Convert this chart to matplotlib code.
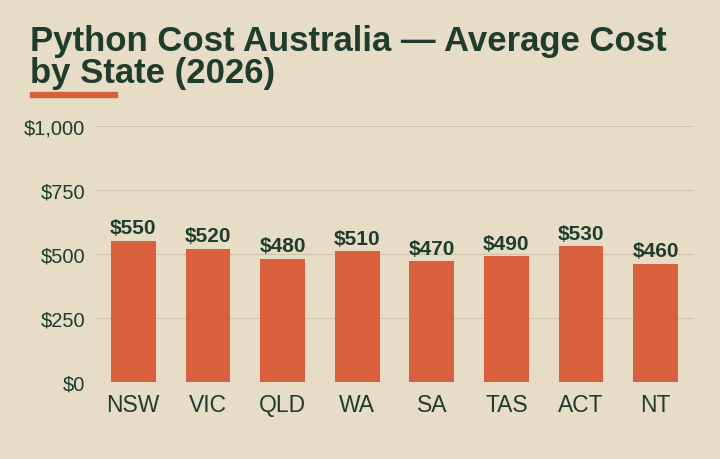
import matplotlib
matplotlib.use("Agg")
import matplotlib.pyplot as plt
from matplotlib.patches import Rectangle
from matplotlib.ticker import FuncFormatter

states = ["NSW", "VIC", "QLD", "WA", "SA", "TAS", "ACT", "NT"]
avg_cost = [550, 520, 480, 510, 470, 490, 530, 460]
yticks = [0, 250, 500, 750, 1000]

bg = "#E7DCC5"
green = "#1E3D2C"
orange = "#D9603C"
grid = "#D0C5AA"

plt.rcParams['font.family'] = ['Liberation Sans', 'DejaVu Sans']

fig = plt.figure(figsize=(7.2, 4.6), dpi=100, facecolor=bg)
ax = fig.add_axes([96/720, 1 - 382.5/460, (693-96)/720, (382.5-127)/460])
ax.set_facecolor(bg)

x = range(len(states))
ax.bar(x, avg_cost, width=0.6, color=orange, zorder=3)
for i, v in zip(x, avg_cost):
    ax.text(i, v + 14, f"${v}", ha='center', va='bottom', fontsize=15,
            fontweight='bold', color=green, zorder=4)

ax.set_xlim(-0.5, len(states) - 0.5)
ax.set_ylim(0, 1000)
ax.set_yticks(yticks)
ax.yaxis.set_major_formatter(FuncFormatter(lambda v, p: f"${v:,.0f}"))
ax.set_xticks(list(x))
ax.set_xticklabels(states)
ax.tick_params(axis='y', length=0, pad=8, labelsize=14.5, labelcolor=green)
ax.tick_params(axis='x', length=0, pad=8, labelsize=16.5, labelcolor=green)
ax.grid(axis='y', color=grid, linewidth=0.9, zorder=0)
for s in ax.spines.values():
    s.set_visible(False)

fig.text(30/720, 1 - 25/460, "Python Cost Australia \u2014 Average Cost\nby State (2026)",
         ha='left', va='top', fontsize=25, fontweight='bold', color=green,
         linespacing=0.98)
fig.patches.append(Rectangle((30/720, 1 - 97.5/460), 87/720, 4.5/460,
                             transform=fig.transFigure, color=orange))

fig.savefig("out.png", dpi=100, facecolor=bg)
